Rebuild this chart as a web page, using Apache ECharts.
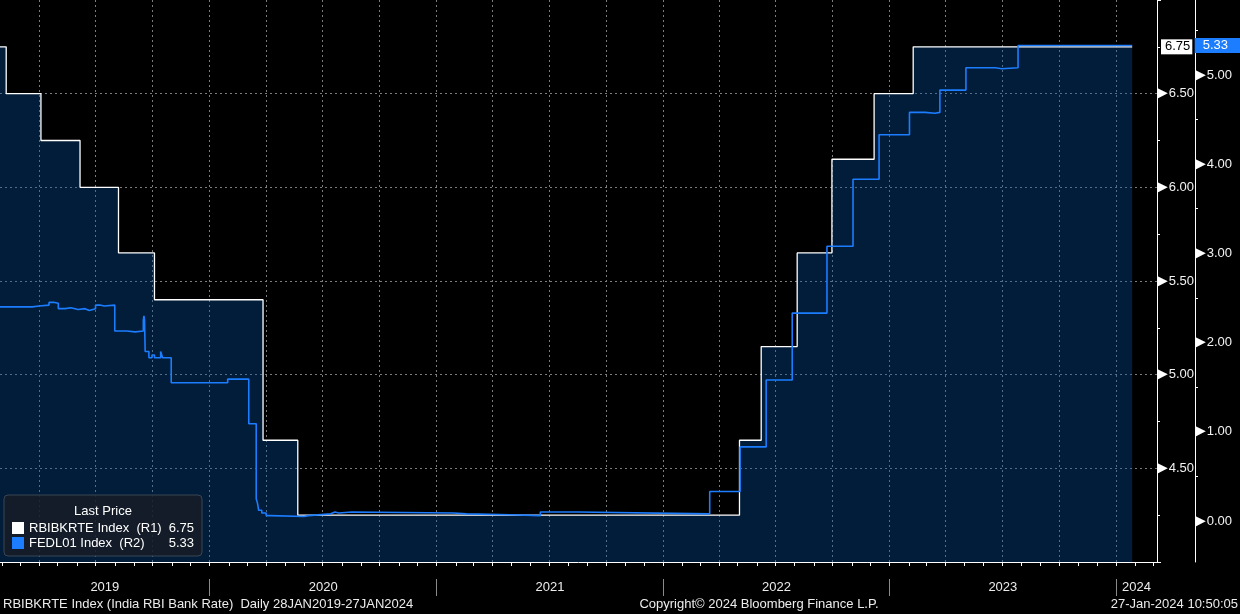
<!DOCTYPE html>
<html>
<head>
<meta charset="utf-8">
<script src="https://cdn.jsdelivr.net/npm/echarts@6/dist/echarts.min.js"></script>
<style>
html,body{margin:0;padding:0;background:#000;}
#c{width:1240px;height:614px;}
</style>
</head>
<body>
<div id="c"></div>
<script>
// ---- data (change points of step series) ----
const rbiDates = ['2019-01-28','2019-02-07','2019-04-04','2019-06-06','2019-08-07','2019-10-04',
  '2020-03-27','2020-05-22','2022-05-04','2022-06-08','2022-08-05','2022-09-30','2022-12-07',
  '2023-02-08','2024-01-27'];
const rbiValues = [6.75,6.50,6.25,6.00,5.65,5.40,4.65,4.25,4.65,5.15,5.65,6.15,6.50,6.75,6.75];

const fedDates = ['2019-01-28','2019-03-21','2019-04-01','2019-04-17','2019-04-26','2019-05-02',
  '2019-05-13','2019-05-22','2019-06-03','2019-06-14','2019-06-21','2019-07-01','2019-07-08',
  '2019-07-15','2019-07-18','2019-08-01','2019-08-20','2019-09-03','2019-09-16','2019-09-17',
  '2019-09-18','2019-09-19','2019-09-25','2019-09-30','2019-10-04','2019-10-14','2019-10-17',
  '2019-10-31','2020-01-30','2020-03-04','2020-03-16','2020-03-18','2020-03-20','2020-03-25',
  '2020-04-01','2020-04-08','2020-06-01','2020-06-08','2020-07-14','2020-07-21','2020-07-27',
  '2020-08-17','2021-01-28','2021-02-18','2021-04-29','2021-06-17','2021-08-17','2022-03-17',
  '2022-05-05','2022-06-16','2022-07-28','2022-09-22','2022-11-03','2022-12-15','2023-02-02',
  '2023-02-27','2023-03-15','2023-03-23','2023-05-04','2023-06-20','2023-07-01','2023-07-27',
  '2024-01-27'];
const fedValues = [2.40,2.41,2.42,2.45,2.44,2.38,
  2.39,2.37,2.38,2.36,2.38,2.42,2.41,
  2.40,2.42,2.13,2.12,2.13,2.25,2.30,
  2.25,1.90,1.83,1.86,1.83,1.90,1.83,
  1.55,1.59,1.09,0.25,0.20,0.12,0.09,
  0.06,0.05,0.06,0.08,0.10,0.09,0.10,
  0.09,0.08,0.07,0.06,0.10,0.08,0.33,
  0.83,1.58,2.33,3.08,3.83,4.33,4.58,
  4.57,4.58,4.83,5.08,5.07,5.08,5.33,
  5.33];

const seriesNames = ['RBIBKRTE Index','FEDL01 Index'];
const seriesAxes = ['(R1)','(R2)'];
const years = [2019,2020,2021,2022,2023,2024];
const r2LabelValues = [0,1,2,3,4,5];
const r2TickValues = [0,0.5,1,1.5,2,2.5,3,3.5,4,4.5,5,5.5];
const axisStart = '2019-01-28';
const axisEnd = '2024-03-07';
const legendTitle = 'Last Price';
const footerLeft = 'RBIBKRTE Index (India RBI Bank Rate)  Daily 28JAN2019-27JAN2024';
const footerCenter = 'Copyright\u00A9 2024 Bloomberg Finance L.P.';
const footerRight = '27-Jan-2024 10:50:05';

// ---- helpers ----
const FONT = "'Liberation Sans', Arial, sans-serif";
const WHITE = '#ffffff';
const BLUE = '#1c7dff';
const ts = s => { const p = s.split('-').map(Number); return new Date(p[0], p[1]-1, p[2]).getTime(); };
const xMin = ts(axisStart), xMax = ts(axisEnd);
const monthTicks = [], quarterTicks = [];
for (let y = years[0]; y <= years[years.length-1]; y++) {
  for (let m = 0; m < 12; m++) {
    const t = new Date(y, m, 1).getTime();
    if (t > xMin && t < xMax) { monthTicks.push(t); if (m % 3 === 0) quarterTicks.push(t); }
  }
}
const yearStarts = years.slice(1).map(y => new Date(y, 0, 1).getTime());
const bounds = [xMin].concat(yearStarts, [xMax]);
const yearCenters = years.map((y, i) => (bounds[i] + bounds[i+1]) / 2);

const rbiData = rbiDates.map((d, i) => [ts(d), rbiValues[i]]);
const fedData = fedDates.map((d, i) => [ts(d), fedValues[i]]);
const lastVals = [rbiValues[rbiValues.length-1], fedValues[fedValues.length-1]];

const triLabel = v => '{t|\u25B6}{v|' + v.toFixed(2) + '}';
const triRich = {
  t: {fontSize: 14, color: WHITE, fontFamily: 'DejaVu Sans', padding: [0, 1, 0, 0]},
  v: {fontSize: 13, color: '#f2f2f2', fontFamily: FONT}
};
const txt = (extra) => Object.assign({color: '#ececec', fontSize: 13, fontFamily: FONT, fontWeight: 'normal'}, extra || {});
const yearOf = v => {
  let best = 0, bd = Infinity;
  yearCenters.forEach((c, i) => { const d = Math.abs(c - v); if (d < bd) { bd = d; best = i; } });
  return String(years[best]);
};

const chart = echarts.init(document.getElementById('c'), null, {renderer: 'canvas'});
chart.setOption({
  backgroundColor: '#000',
  animation: false,
  grid: {left: 0, right: 83, top: 0, bottom: 52, containLabel: false},
  title: [
    {text: legendTitle, left: 103, top: 505, textAlign: 'center', padding: 0, z: 10, textStyle: txt({color: '#fff'})},
    {text: footerLeft, left: 3, top: 598, padding: 0, textStyle: txt()},
    {text: footerCenter, left: 759, top: 598, textAlign: 'center', padding: 0, textStyle: txt()},
    {text: footerRight, left: 1238, top: 598, textAlign: 'right', padding: 0, textStyle: txt()}
  ],
  legend: {
    left: 4, top: 495, orient: 'vertical', padding: [26, 8, 6, 8], itemGap: 1,
    itemWidth: 12, itemHeight: 12, icon: 'rect', selectedMode: false, z: 5,
    backgroundColor: 'rgba(22,28,38,0.85)', borderColor: '#3a4654', borderWidth: 1, borderRadius: 4,
    data: [
      {name: seriesNames[0], itemStyle: {color: WHITE, borderWidth: 0}},
      {name: seriesNames[1], itemStyle: {color: BLUE, borderWidth: 0}}
    ],
    formatter: name => {
      const i = seriesNames.indexOf(name);
      return '{n|' + name + '  ' + seriesAxes[i] + '}{v|' + lastVals[i].toFixed(2) + '}';
    },
    textStyle: {
      color: '#fff', fontSize: 13, fontFamily: FONT, lineHeight: 14,
      rich: {
        n: {width: 139, color: '#fff', fontSize: 13, fontFamily: FONT},
        v: {width: 26, align: 'right', color: '#fff', fontSize: 13, fontFamily: FONT}
      }
    }
  },
  xAxis: [
    { // main axis: line + monthly ticks
      type: 'value', position: 'bottom', min: xMin, max: xMax, scale: true,
      axisLine: {show: true, onZero: false, lineStyle: {color: WHITE, width: 1}},
      axisTick: {show: true, customValues: monthTicks, length: 4, lineStyle: {color: WHITE}},
      axisLabel: {show: false}, splitLine: {show: false}
    },
    { // quarterly grid lines
      type: 'value', position: 'bottom', min: xMin, max: xMax, scale: true,
      axisLine: {show: false, onZero: false}, axisTick: {show: false, customValues: quarterTicks},
      axisLabel: {show: false},
      splitLine: {show: true, lineStyle: {color: '#7c7c7c', type: [2, 3], width: 1}}
    },
    { // year labels and separators
      type: 'value', position: 'bottom', offset: 17, min: xMin, max: xMax, scale: true,
      axisLine: {show: false, onZero: false},
      axisTick: {show: true, customValues: yearStarts, length: 17, lineStyle: {color: '#8a8a8a'}},
      axisLabel: {show: true, customValues: yearCenters, margin: 2, formatter: yearOf,
        color: '#ececec', fontSize: 13, fontFamily: FONT},
      splitLine: {show: false}
    }
  ],
  yAxis: [
    { // R1
      type: 'value', position: 'right', min: 4, max: 7, interval: 0.5,
      axisLine: {show: true, lineStyle: {color: WHITE, width: 1}},
      axisTick: {show: true, length: 4, lineStyle: {color: WHITE}},
      minorTick: {show: true, splitNumber: 2, length: 3, lineStyle: {color: WHITE}},
      axisLabel: {show: true, margin: 0, showMinLabel: false, showMaxLabel: false,
        formatter: triLabel, rich: triRich},
      splitLine: {show: true, showMinLine: false, showMaxLine: false,
        lineStyle: {color: '#7c7c7c', type: [2, 3], width: 1}},
      axisPointer: {
        show: true, type: 'line', value: lastVals[0], status: 'show', snap: false, triggerTooltip: false,
        lineStyle: {color: 'rgba(0,0,0,0)', width: 0},
        label: {show: true, precision: 2, margin: 4, backgroundColor: WHITE, color: '#000',
          fontSize: 13, fontFamily: FONT, padding: [1, 2, 1, 4], borderRadius: 0}
      }
    },
    { // R2
      type: 'value', position: 'right', offset: 38, min: -0.46, max: 5.84,
      axisLine: {show: true, lineStyle: {color: WHITE, width: 1}},
      axisTick: {show: true, customValues: r2TickValues, length: 3, lineStyle: {color: WHITE}},
      axisLabel: {show: true, margin: 0, customValues: r2LabelValues, formatter: triLabel, rich: triRich},
      splitLine: {show: false},
      axisPointer: {
        show: true, type: 'line', value: lastVals[1], status: 'show', snap: false, triggerTooltip: false,
        lineStyle: {color: 'rgba(0,0,0,0)', width: 0},
        label: {show: true, precision: 2, margin: 2, backgroundColor: BLUE, color: '#fff',
          fontSize: 13, fontFamily: FONT, padding: [1, 12, 1, 8], borderRadius: 0}
      }
    }
  ],
  series: [
    {
      name: seriesNames[0], type: 'line', step: 'end', xAxisIndex: 0, yAxisIndex: 0,
      symbol: 'none', showSymbol: false, silent: true, z: 2,
      data: rbiData,
      lineStyle: {color: WHITE, width: 1.3},
      itemStyle: {color: WHITE},
      areaStyle: {color: 'rgb(6,83,166)', opacity: 0.35, origin: 'start'}
    },
    {
      name: seriesNames[1], type: 'line', step: 'end', xAxisIndex: 0, yAxisIndex: 1,
      symbol: 'none', showSymbol: false, silent: true, z: 3,
      data: fedData,
      lineStyle: {color: BLUE, width: 1.6},
      itemStyle: {color: BLUE}
    }
  ]
});
</script>
</body>
</html>
